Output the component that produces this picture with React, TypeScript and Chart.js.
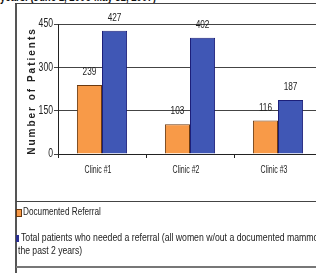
import React, { useEffect, useRef } from "react";
import { Chart, registerables } from "chart.js";

Chart.register(...registerables);

const categories = ["Clinic #1", "Clinic #2", "Clinic #3"];
const documentedReferral = [239, 103, 116];
const totalNeeded = [427, 402, 187];
const yTicks = [0, 150, 300, 450];
const seriesNames = [
  "Documented Referral",
  "Total patients who needed a referral (all women w/out a documented mammogram in",
];
const legendContinuation = "the past 2 years)";
const yTitle = "Number of Patients";
const topText = "years. (June 1, 2006-May 31, 2007)";

const FONT = '"Liberation Sans", Arial, sans-serif';

const condensedText = {
  id: "condensedText",
  afterDraw(chart: any) {
    const ctx = chart.ctx;
    const x = chart.scales.x;
    const y = chart.scales.y;
    const draw = (text: string, px: number, py: number, align: CanvasTextAlign, size: number, sx: number) => {
      ctx.save();
      ctx.translate(px, py);
      ctx.scale(sx, 1);
      ctx.font = `${size}px ${FONT}`;
      ctx.fillStyle = "#222";
      ctx.textAlign = align;
      ctx.textBaseline = "middle";
      ctx.fillText(text, 0, 0);
      ctx.restore();
    };
    y.ticks.forEach((t: any) => draw(String(t.value), 53, y.getPixelForValue(t.value), "right", 12, 0.72));
    categories.forEach((c, i) => draw(c, x.getPixelForValue(i) - 4, 170, "center", 10, 0.7));
    chart.data.datasets.forEach((ds: any, di: number) => {
      chart.getDatasetMeta(di).data.forEach((el: any, i: number) => {
        draw(String(ds.data[i]), el.x, el.y - 13, "center", 11, 0.75);
      });
    });
  },
};

function BarChart() {
  const ref = useRef<HTMLCanvasElement>(null);
  useEffect(() => {
    if (!ref.current) return;
    const chart = new Chart(ref.current, {
      type: "bar",
      data: {
        labels: categories,
        datasets: [
          {
            label: seriesNames[0],
            data: documentedReferral,
            backgroundColor: "#f89a48",
            borderColor: "#6b3a10",
            borderWidth: 1,
            categoryPercentage: 0.57,
            barPercentage: 1,
          },
          {
            label: seriesNames[1],
            data: totalNeeded,
            backgroundColor: "#4057b5",
            borderColor: "#1c1f7a",
            borderWidth: 1,
            categoryPercentage: 0.57,
            barPercentage: 1,
          },
        ],
      },
      options: {
        animation: false,
        responsive: true,
        maintainAspectRatio: false,
        devicePixelRatio: 1,
        layout: { padding: { top: 24, right: 18, left: 0, bottom: 0 } },
        plugins: { legend: { display: false }, tooltip: { enabled: false } },
        scales: {
          x: {
            grid: { offset: true, drawOnChartArea: false, drawTicks: true, tickLength: 4, color: "#222" },
            border: { display: true, color: "#222", width: 1 },
            ticks: { display: false },
            afterFit: (s: any) => {
              s.height = 45;
            },
          },
          y: {
            min: yTicks[0],
            max: yTicks[yTicks.length - 1],
            ticks: { display: false, stepSize: yTicks[1] - yTicks[0] },
            grid: { color: "#444", lineWidth: 1, tickLength: 4, drawTicks: true },
            border: { display: true, color: "#222", width: 1 },
            afterFit: (s: any) => {
              s.width = 58;
            },
          },
        },
      },
      plugins: [condensedText],
    });
    return () => chart.destroy();
  }, []);
  return (
    <div style={{ position: "absolute", left: 0, top: 0, width: 340, height: 199 }}>
      <canvas ref={ref} />
    </div>
  );
}

export default function App() {
  const txt = (sx: number): React.CSSProperties => ({
    position: "absolute",
    fontFamily: FONT,
    fontSize: 10,
    lineHeight: "12px",
    whiteSpace: "nowrap",
    color: "#222",
    transform: `scaleX(${sx})`,
    transformOrigin: "left center",
  });
  return (
    <div
      style={{
        position: "fixed",
        left: 0,
        top: 0,
        width: 316,
        height: 273,
        overflow: "hidden",
        background: "#fff",
      }}
    >
      <div
        style={{
          position: "absolute",
          left: 0,
          top: -10,
          fontFamily: FONT,
          fontWeight: "bold",
          fontSize: 12,
          whiteSpace: "nowrap",
          transform: "scaleX(0.8)",
          transformOrigin: "left center",
          color: "#111",
        }}
      >
        {topText}
      </div>
      <BarChart />
      <div
        style={{
          position: "absolute",
          left: 31,
          top: 91,
          transform: "translate(-50%, -50%) rotate(-90deg)",
          fontFamily: FONT,
          fontWeight: "bold",
          fontSize: 10,
          letterSpacing: "2px",
          whiteSpace: "nowrap",
          color: "#222",
        }}
      >
        {yTitle}
      </div>
      <div style={{ position: "absolute", left: 15, top: 3, width: 2, height: 270, background: "#555" }} />
      <div style={{ position: "absolute", left: 15, top: 3, width: 301, height: 1, background: "#444" }} />
      <div style={{ position: "absolute", left: 16, top: 201, width: 300, height: 1, background: "#444" }} />
      <div style={{ position: "absolute", left: 16, top: 266, width: 300, height: 2, background: "#777" }} />
      <div
        style={{
          position: "absolute",
          left: 16,
          top: 209,
          width: 4,
          height: 6,
          background: "#f89a48",
          border: "1px solid #6b3a10",
        }}
      />
      <div style={{ ...txt(0.82), left: 23, top: 206 }}>{seriesNames[0]}</div>
      <div style={{ position: "absolute", left: 16, top: 235, width: 3, height: 7, background: "#2a2f90" }} />
      <div style={{ ...txt(0.87), left: 21, top: 232 }}>{seriesNames[1]}</div>
      <div style={{ ...txt(0.86), left: 18, top: 245 }}>{legendContinuation}</div>
    </div>
  );
}
